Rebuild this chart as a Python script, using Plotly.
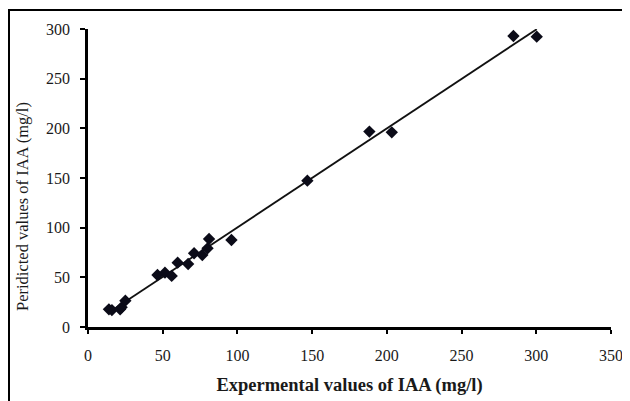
import numpy as np
import plotly.graph_objects as go

# Experimental vs predicted IAA (mg/l)
experimental = [14, 16, 21.5, 22.5, 25, 46.5, 51.5, 56, 60, 67, 71, 76.5, 80, 81, 96,
                146.8, 188.3, 203.3, 284.7, 300.3]
predicted = [17.8, 17, 17.8, 19.8, 26.5, 52.4, 54.7, 51.4, 64.8, 63.4, 74.2, 72.5, 79.2, 88.6, 87.6,
             147.3, 196.7, 196, 293, 292.3]

x_ticks = [0, 50, 100, 150, 200, 250, 300, 350]
y_ticks = [0, 50, 100, 150, 200, 250, 300]

x_title = "Expermental values of IAA (mg/l)"
y_title = "Peridicted values of IAA (mg/l)"

# linear trendline
slope, intercept = np.polyfit(experimental, predicted, 1)
tx = np.array([min(experimental), max(experimental)])
ty = slope * tx + intercept

fig = go.Figure()
fig.add_trace(go.Scatter(x=tx, y=ty, mode="lines",
                         line=dict(color="#111111", width=1.8), hoverinfo="skip"))
fig.add_trace(go.Scatter(x=experimental, y=predicted, mode="markers",
                         marker=dict(symbol="diamond", size=9.5, color="#0b0b18",
                                     line=dict(width=0))))

# the page body has an 8px default margin, so the figure is sized/offset to compensate
W, H = 622, 393
L, T = 80, 21
PW, PH = 523, 298
R = W - L - PW
B = H - T - PH

font_fam = "Liberation Serif, Times New Roman, serif"
fig.update_layout(
    width=W, height=H,
    margin=dict(l=L, r=R, t=T, b=B),
    paper_bgcolor="white", plot_bgcolor="white",
    showlegend=False,
    font=dict(family=font_fam, size=16, color="#1a1a1a"),
    xaxis=dict(range=[0, 350], tickvals=x_ticks, showgrid=False, zeroline=False,
               automargin=False,
               showline=True, linecolor="black", linewidth=2.5,
               ticks="outside", ticklen=4, tickwidth=2, tickcolor="black",
               ticklabelstandoff=8,
               title=dict(text="<b>" + x_title + "</b>", standoff=16,
                          font=dict(family=font_fam, size=18.5))),
    yaxis=dict(range=[0, 300], tickvals=y_ticks, showgrid=False, zeroline=False,
               automargin=False,
               showline=True, linecolor="black", linewidth=2.5,
               ticks="outside", ticklen=5, tickwidth=2, tickcolor="black",
               ticklabelstandoff=7),
    annotations=[dict(text=y_title, textangle=-90, showarrow=False,
                      xref="paper", yref="paper",
                      x=(14 - L) / PW, y=(T + PH - 199) / PH,
                      xanchor="center", yanchor="middle",
                      font=dict(family=font_fam, size=16.5, color="#1a1a1a"))],
    shapes=[dict(type="rect", xref="paper", yref="paper",
                 x0=(1 - L) / PW, x1=(618 - L) / PW,
                 y0=-(B + 2) / PH, y1=(PH + T - 2) / PH,
                 line=dict(color="black", width=2), fillcolor="rgba(0,0,0,0)",
                 layer="below")],
)

fig.write_html("out.html")
